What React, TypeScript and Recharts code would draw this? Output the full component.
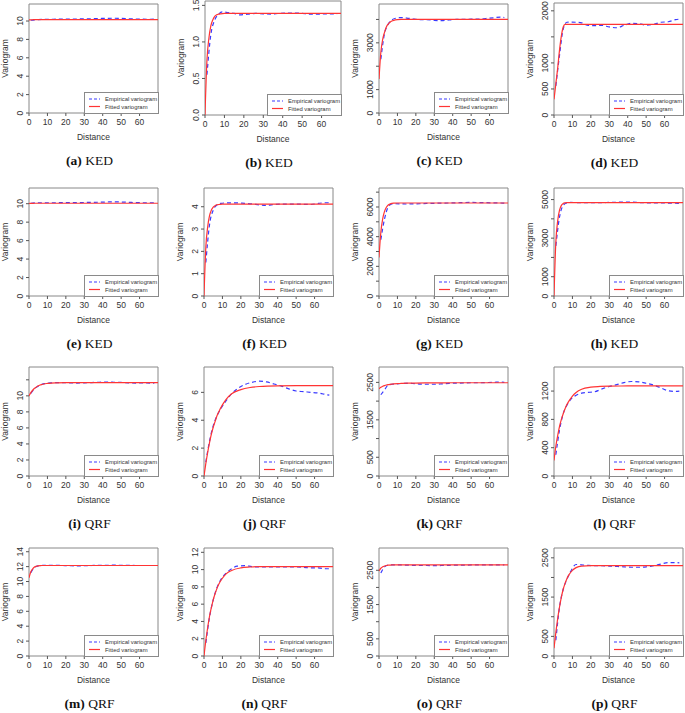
import { LineChart, Line, XAxis, YAxis, ReferenceArea } from "recharts"

// lag distances of the empirical bins and of the fitted model curve
const empDist = [1, 3, 5, 7, 9, 12, 15, 18, 22, 26, 30, 34, 38, 42, 46, 50, 54, 58, 62, 66, 68]
const fitDist = [0, 1, 2, 3, 4, 5, 6, 7, 8, 10, 12, 15, 20, 25, 30, 40, 50, 60, 70]
const distTicks = [0, 10, 20, 30, 40, 50, 60]

// KED
const empA = [10.08, 10.12, 10.15, 10.17, 10.18, 10.19, 10.2, 10.2, 10.21, 10.22, 10.23, 10.25, 10.27, 10.29, 10.3, 10.28, 10.25, 10.22, 10.2, 10.19, 10.2]
const fitA = [10.12, 10.13, 10.14, 10.15, 10.15, 10.15, 10.15, 10.15, 10.15, 10.15, 10.15, 10.15, 10.15, 10.15, 10.15, 10.15, 10.15, 10.15, 10.15]
const empB = [0.55, 1.1, 1.3, 1.38, 1.41, 1.4, 1.39, 1.37, 1.38, 1.39, 1.385, 1.38, 1.39, 1.395, 1.395, 1.39, 1.38, 1.38, 1.385, 1.385, 1.385]
const fitB = [0, 0.75, 1.05, 1.22, 1.3, 1.35, 1.37, 1.38, 1.385, 1.39, 1.39, 1.39, 1.39, 1.39, 1.39, 1.39, 1.39, 1.39, 1.39]
const empC = [2300, 3400, 3800, 3980, 4050, 4080, 4060, 4030, 3990, 3990, 3960, 3950, 3980, 4000, 4000, 4010, 4010, 4040, 4070, 4100, 4080]
const fitC = [1450, 2600, 3150, 3450, 3680, 3800, 3880, 3930, 3960, 3990, 4000, 4000, 4000, 4000, 4000, 4000, 4000, 4000, 4000]
const empD = [560, 1150, 1650, 1780, 1785, 1780, 1770, 1725, 1715, 1720, 1690, 1675, 1720, 1760, 1755, 1725, 1740, 1780, 1790, 1830, 1840]
const fitD = [300, 600, 900, 1250, 1520, 1690, 1740, 1740, 1740, 1740, 1740, 1740, 1740, 1740, 1740, 1740, 1740, 1740, 1740]
const empE = [10.05, 10.08, 10.1, 10.1, 10.1, 10.1, 10.1, 10.12, 10.12, 10.12, 10.13, 10.14, 10.16, 10.18, 10.2, 10.18, 10.15, 10.12, 10.1, 10.1, 10.1]
const fitE = [10.02, 10.03, 10.04, 10.05, 10.05, 10.05, 10.05, 10.05, 10.05, 10.05, 10.05, 10.05, 10.05, 10.05, 10.05, 10.05, 10.05, 10.05, 10.05]
const empF = [1.5, 3.2, 3.85, 4.08, 4.15, 4.17, 4.17, 4.17, 4.15, 4.13, 4.08, 4.06, 4.1, 4.12, 4.12, 4.12, 4.11, 4.1, 4.15, 4.18, 4.18]
const fitF = [0, 2.2, 3.1, 3.6, 3.85, 3.98, 4.05, 4.09, 4.1, 4.12, 4.12, 4.12, 4.12, 4.12, 4.12, 4.12, 4.12, 4.12, 4.12]
const empG = [3800, 5200, 6000, 6200, 6220, 6210, 6200, 6210, 6220, 6240, 6250, 6260, 6270, 6280, 6300, 6310, 6300, 6290, 6280, 6270, 6260]
const fitG = [2600, 4300, 5200, 5700, 5980, 6130, 6200, 6240, 6260, 6270, 6270, 6270, 6270, 6270, 6270, 6270, 6270, 6270, 6270]
const empH = [2600, 4100, 4700, 4830, 4850, 4845, 4840, 4835, 4840, 4845, 4850, 4860, 4870, 4870, 4850, 4830, 4825, 4830, 4820, 4810, 4800]
const fitH = [0, 2800, 3900, 4450, 4700, 4800, 4830, 4840, 4840, 4840, 4840, 4840, 4840, 4840, 4840, 4840, 4840, 4840, 4840]

// QRF
const empI = [10.3, 10.9, 11.2, 11.45, 11.55, 11.62, 11.65, 11.65, 11.62, 11.6, 11.62, 11.66, 11.7, 11.72, 11.7, 11.67, 11.62, 11.6, 11.62, 11.6, 11.6]
const fitI = [10.0, 10.4, 10.7, 10.95, 11.1, 11.25, 11.35, 11.42, 11.48, 11.55, 11.6, 11.63, 11.65, 11.65, 11.65, 11.65, 11.65, 11.65, 11.65]
const empJ = [1.0, 2.5, 3.6, 4.3, 4.8, 5.4, 5.9, 6.25, 6.55, 6.72, 6.8, 6.75, 6.6, 6.45, 6.25, 6.1, 6.05, 6.0, 5.95, 5.85, 5.8]
const fitJ = [0, 0.9, 1.7, 2.4, 3.0, 3.5, 3.9, 4.3, 4.6, 5.1, 5.5, 5.9, 6.2, 6.35, 6.42, 6.47, 6.48, 6.48, 6.48]
const empK = [2170, 2300, 2430, 2450, 2460, 2470, 2475, 2470, 2455, 2450, 2450, 2460, 2475, 2480, 2485, 2490, 2490, 2495, 2500, 2510, 2500]
const fitK = [2330, 2370, 2395, 2415, 2430, 2440, 2448, 2455, 2460, 2468, 2472, 2478, 2483, 2486, 2488, 2490, 2490, 2490, 2490]
const empL = [300, 650, 880, 1000, 1080, 1140, 1170, 1180, 1190, 1230, 1265, 1290, 1320, 1335, 1330, 1310, 1285, 1245, 1205, 1195, 1200]
const fitL = [220, 420, 570, 700, 800, 880, 950, 1010, 1055, 1130, 1180, 1225, 1255, 1265, 1270, 1272, 1272, 1272, 1272]
const empM = [11.2, 11.9, 12.1, 12.15, 12.18, 12.18, 12.16, 12.15, 12.12, 12.1, 12.12, 12.15, 12.17, 12.18, 12.2, 12.18, 12.17, 12.15, 12.15, 12.15, 12.15]
const fitM = [10.5, 11.3, 11.7, 11.95, 12.05, 12.1, 12.13, 12.15, 12.15, 12.15, 12.15, 12.15, 12.15, 12.15, 12.15, 12.15, 12.15, 12.15, 12.15]
const empN = [1.5, 4.5, 6.5, 7.9, 8.8, 9.6, 10.1, 10.4, 10.45, 10.35, 10.3, 10.3, 10.3, 10.3, 10.3, 10.3, 10.25, 10.2, 10.2, 10.1, 10.1]
const fitN = [0, 1.8, 3.3, 4.6, 5.6, 6.5, 7.2, 7.8, 8.3, 9.0, 9.5, 9.9, 10.2, 10.3, 10.35, 10.35, 10.35, 10.35, 10.35]
const empO = [2420, 2600, 2650, 2660, 2660, 2655, 2650, 2645, 2640, 2640, 2635, 2640, 2645, 2650, 2650, 2655, 2660, 2660, 2660, 2660, 2660]
const fitO = [2480, 2560, 2600, 2625, 2640, 2648, 2652, 2655, 2655, 2655, 2655, 2655, 2655, 2655, 2655, 2655, 2655, 2655, 2655]
const empP = [400, 1250, 1700, 1950, 2150, 2330, 2320, 2310, 2300, 2300, 2290, 2280, 2270, 2260, 2260, 2270, 2300, 2340, 2380, 2380, 2370]
const fitP = [200, 600, 950, 1250, 1500, 1700, 1850, 1970, 2060, 2180, 2250, 2290, 2300, 2300, 2300, 2300, 2300, 2300, 2300]

// y ticks and which of them carry a label
const ticksTen = [0, 2, 4, 6, 8, 10]
const ticksTwelve = [0, 2, 4, 6, 8, 10, 12]
const ticksFourteen = [0, 2, 4, 6, 8, 10, 12, 14]
const ticksHalf = [0, 0.5, 1, 1.5]
const ticksFour = [0, 1, 2, 3, 4]
const ticksSix = [0, 2, 4, 6]
const ticksThousand = [0, 1000, 2000, 3000, 4000]
const labelsThousand = [0, 1000, 3000]
const ticksTwoThousand = [0, 500, 1000, 1500, 2000]
const labelsTwoThousand = [0, 500, 1000, 2000]
const ticksSeven = [0, 1000, 2000, 3000, 4000, 5000, 6000, 7000]
const labelsSeven = [0, 2000, 4000, 6000]
const ticksFive = [0, 1000, 2000, 3000, 4000, 5000]
const labelsFive = [0, 1000, 3000, 5000]
const ticksTwoFive = [0, 500, 1000, 1500, 2000, 2500]
const labelsTwoFive = [0, 500, 1500, 2500]
const ticksTwelveHundred = [0, 400, 800, 1200]

const panels = [
  { id: "a", method: "KED", emp: empA, fit: fitA, yMax: 11.85, ticks: ticksTen, labels: ticksTen, box: [29, 4, 129, 109] },
  { id: "b", method: "KED", emp: empB, fit: fitB, yMax: 1.56, ticks: ticksHalf, labels: ticksHalf, digits: 1, box: [205, 1, 136, 114] },
  { id: "c", method: "KED", emp: empC, fit: fitC, yMax: 4660, ticks: ticksThousand, labels: labelsThousand, box: [379, 4, 129, 109] },
  { id: "d", method: "KED", emp: empD, fit: fitD, yMax: 2150, ticks: ticksTwoThousand, labels: labelsTwoThousand, box: [554, 3, 129, 112] },
  { id: "e", method: "KED", emp: empE, fit: fitE, yMax: 11.7, ticks: ticksTen, labels: ticksTen, box: [29, 188, 129, 108] },
  { id: "f", method: "KED", emp: empF, fit: fitF, yMax: 4.84, ticks: ticksFour, labels: ticksFour, box: [204, 188, 129, 108] },
  { id: "g", method: "KED", emp: empG, fit: fitG, yMax: 7280, ticks: ticksSeven, labels: labelsSeven, box: [379, 188, 129, 108] },
  { id: "h", method: "KED", emp: empH, fit: fitH, yMax: 5600, ticks: ticksFive, labels: labelsFive, box: [554, 188, 129, 108] },
  { id: "i", method: "QRF", emp: empI, fit: fitI, yMax: 13.6, ticks: ticksTwelve, labels: ticksTen, box: [29, 367, 129, 109] },
  { id: "j", method: "QRF", emp: empJ, fit: fitJ, yMax: 7.82, ticks: ticksSix, labels: ticksSix, box: [204, 367, 129, 109] },
  { id: "k", method: "QRF", emp: empK, fit: fitK, yMax: 2911, ticks: ticksTwoFive, labels: labelsTwoFive, box: [379, 367, 129, 109] },
  { id: "l", method: "QRF", emp: empL, fit: fitL, yMax: 1540, ticks: ticksTwelveHundred, labels: ticksTwelveHundred, box: [554, 367, 129, 109] },
  { id: "m", method: "QRF", emp: empM, fit: fitM, yMax: 14.5, ticks: ticksFourteen, labels: ticksFourteen, box: [29, 548, 129, 108] },
  { id: "n", method: "QRF", emp: empN, fit: fitN, yMax: 12.5, ticks: ticksTwelve, labels: ticksTwelve, box: [204, 548, 129, 108] },
  { id: "o", method: "QRF", emp: empO, fit: fitO, yMax: 3150, ticks: ticksTwoFive, labels: labelsTwoFive, box: [379, 548, 129, 108] },
  { id: "p", method: "QRF", emp: empP, fit: fitP, yMax: 2750, ticks: ticksTwoFive, labels: labelsTwoFive, box: [554, 548, 129, 108] },
]

const BLUE = "#3a3aff"
const RED = "#ff3434"
const INK = "#333"
const AXIS_W = 30

function YTick(props: any) {
  const { x, y, payload, labels, digits } = props
  if (!labels.includes(payload.value)) return <g />
  return (
    <text x={x} y={y} transform={`rotate(-90 ${x} ${y})`} textAnchor="middle" fontSize={8.5} fill={INK}>
      {payload.value.toFixed(digits || 0)}
    </text>
  )
}

function Key({ left, top }: { left: number; top: number }) {
  return (
    <svg width={75} height={22} style={{ position: "absolute", left, top }}>
      <rect x={0.5} y={0.5} width={74} height={21} fill="#fff" stroke="#8a8a8a" />
      <line x1={5} x2={16} y1={7} y2={7} stroke={BLUE} strokeWidth={1.2} strokeDasharray="3 2" />
      <line x1={5} x2={16} y1={14.5} y2={14.5} stroke={RED} strokeWidth={1.2} />
      <text x={21} y={9} fontSize={5.9} fill={INK}>Empirical variogram</text>
      <text x={21} y={16.5} fontSize={5.9} fill={INK}>Fitted variogram</text>
    </svg>
  )
}

function Panel({ p }: { p: any }) {
  const [left, top, w, h] = p.box
  const emp = empDist.map((d, i) => ({ d, v: p.emp[i] }))
  const fit = fitDist.map((d, i) => ({ d, v: p.fit[i] }))
  return (
    <>
      <div style={{ position: "absolute", left: left - AXIS_W, top: top - 2 }}>
        <LineChart width={AXIS_W + w + 2} height={h + 32} margin={{ top: 2, right: 2, left: 0, bottom: 0 }}>
          <XAxis
            type="number"
            dataKey="d"
            domain={[0, 70]}
            ticks={distTicks}
            interval={0}
            allowDataOverflow
            height={30}
            axisLine={false}
            tickSize={3}
            tickMargin={3}
            stroke="#555"
            tick={{ fontSize: 8.5, fill: INK }}
            label={{ value: "Distance", position: "insideBottom", offset: 3, fontSize: 8.5, fill: INK }}
          />
          <YAxis
            type="number"
            domain={[0, p.yMax]}
            ticks={p.ticks}
            interval={0}
            allowDataOverflow
            width={AXIS_W}
            axisLine={false}
            tickSize={3}
            tickMargin={3}
            stroke="#555"
            tick={(t: any) => <YTick {...t} labels={p.labels} digits={p.digits} />}
            label={{ value: "Variogram", angle: -90, position: "insideLeft", offset: 6, fontSize: 8.5, fill: INK, style: { textAnchor: "middle" } }}
          />
          <ReferenceArea x1={0} x2={70} y1={0} y2={p.yMax} fill="none" stroke="#888" strokeWidth={1} ifOverflow="visible" />
          <Line data={emp} dataKey="v" type="monotone" stroke={BLUE} strokeWidth={1.2} strokeDasharray="4 3" dot={false} isAnimationActive={false} />
          <Line data={fit} dataKey="v" type="monotone" stroke={RED} strokeWidth={1.2} dot={false} isAnimationActive={false} />
        </LineChart>
      </div>
      <Key left={left + w - 74} top={top + h - 21} />
      <div
        style={{
          position: "absolute",
          left: left + w / 2 - 64,
          top: top + h + 40,
          width: 120,
          textAlign: "center",
          fontFamily: "'Times New Roman', 'Liberation Serif', Times, serif",
          fontSize: 13.5,
          lineHeight: "15px",
          color: "#111",
        }}
      >
        <b>({p.id})</b> {p.method}
      </div>
    </>
  )
}

export default function App() {
  return (
    <div
      style={{
        position: "absolute",
        left: 0,
        top: 0,
        width: 685,
        height: 713,
        background: "#fff",
        fontFamily: "'Liberation Sans', Arial, sans-serif",
        overflow: "hidden",
      }}
    >
      {panels.map((p) => (
        <Panel key={p.id} p={p} />
      ))}
    </div>
  )
}
